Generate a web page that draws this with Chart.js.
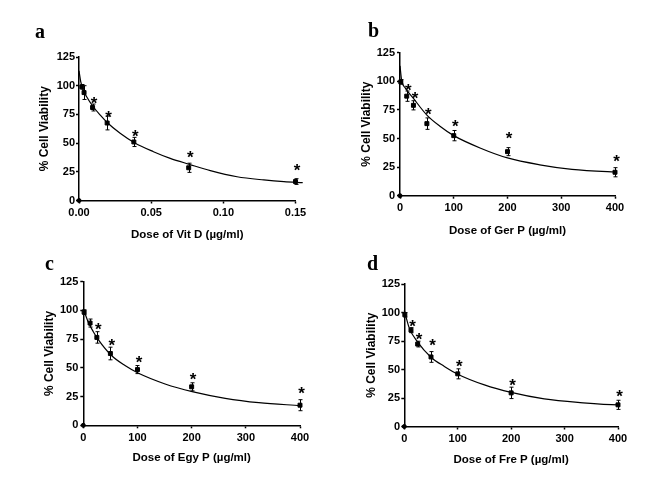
<!DOCTYPE html>
<html><head><meta charset="utf-8">
<script src="https://cdn.jsdelivr.net/npm/chart.js@4.4.1/dist/chart.umd.min.js"></script>
<style>
html,body{margin:0;padding:0;background:#fff;width:669px;height:485px;overflow:hidden}
canvas{position:absolute}
.lab{position:absolute;font:bold 20px "Liberation Serif","Times New Roman",serif;line-height:20px;color:#000}
</style></head><body>
<canvas id="ca" width="334" height="245" style="left:0;top:0"></canvas>
<canvas id="cb" width="334" height="245" style="left:335px;top:0"></canvas>
<canvas id="cc" width="334" height="240" style="left:0;top:245px"></canvas>
<canvas id="cd" width="334" height="240" style="left:335px;top:245px"></canvas>
<div class="lab" style="left:35px;top:20.75px">a</div>
<div class="lab" style="left:368px;top:20.25px">b</div>
<div class="lab" style="left:45px;top:253.25px">c</div>
<div class="lab" style="left:367px;top:253.25px">d</div>
<script>
// ---- shared ticks ----
const yTicks = [0, 25, 50, 75, 100, 125];
const xTicksVitD = [0, 0.05, 0.10, 0.15];
const xTickLabelsVitD = ['0.00', '0.05', '0.10', '0.15'];
const xTicksP = [0, 100, 200, 300, 400];
const xTickLabelsP = ['0', '100', '200', '300', '400'];
const yTitle = '% Cell Viability';
const xTitles = ['Dose of Vit D (µg/ml)', 'Dose of Ger P (µg/ml)', 'Dose of Egy P (µg/ml)', 'Dose of Fre P (µg/ml)'];
const panelLetters = ['a', 'b', 'c', 'd'];
const originX = [0];
const originY = [0];

// ---- panel a: Vit D ----
const doseA = [0.002, 0.0035, 0.0094, 0.0195, 0.038, 0.076, 0.15];
const viabA = [99, 94, 81, 67.5, 51, 28.5, 16.5];
const sdA = [2, 6, 3, 6, 4, 4, 2.5];
const starA = [null, null, 88, 76.5, 60, 41, 30];
const fitXA = [0, 0.0012, 0.003, 0.0053, 0.0095, 0.0146, 0.0197, 0.0285, 0.0384, 0.0516, 0.0632, 0.0764, 0.091, 0.1095, 0.128, 0.142, 0.155];
const fitYA = [113, 103.5, 96, 90.4, 82.3, 74.5, 67.7, 58.5, 50.3, 42.5, 36.7, 31.5, 26, 20.7, 17.9, 16.4, 15.6];

// ---- panel b: Ger P ----
const doseB = [1.5, 12.5, 25, 50, 100, 200, 400];
const viabB = [99.5, 87, 79, 63, 52.5, 38.5, 20.5];
const sdB = [2, 4.5, 4, 5, 4.5, 3.5, 4];
const starB = [null, 96, 88.5, 74.5, 64, 53.5, 34];
const fitXB = [0, 3, 10, 25, 50, 75, 100, 150, 200, 260, 320, 400, 412];
const fitYB = [113.5, 101, 94, 85, 70.5, 60.5, 52.5, 41.5, 33, 27, 23, 20.7, 20.5];

// ---- panel c: Egy P ----
const doseC = [1.5, 12.5, 25, 50, 100, 200, 400];
const viabC = [98.5, 89, 76.5, 62.5, 48.5, 33.5, 17.5];
const sdC = [2, 3.5, 5, 5.5, 3.5, 3.5, 4.8];
const starC = [null, null, 87.5, 73, 59, 44, 31.5];
const fitXC = [0, 9, 18.5, 28, 51, 77, 102, 151, 201, 262, 324, 401];
const fitYC = [101.5, 90, 81.5, 74.3, 61.2, 52, 45.3, 36, 29.3, 23.5, 19.7, 17.1];

// ---- panel d: Fre P ----
const doseD = [1, 12.5, 25, 50, 100, 200, 400];
const viabD = [98, 84.5, 72.3, 61, 46.2, 29.5, 19];
const sdD = [2, 2.2, 2.5, 4.7, 4.4, 5, 4];
const starD = [null, 91.6, 80, 74.6, 56.2, 40, 30.7];
const fitXD = [0, 9.4, 25, 50, 75, 100, 150, 200, 262, 325, 400, 412];
const fitYD = [102, 86.3, 74, 60.8, 52.7, 45.9, 36.5, 29.9, 24.2, 21.1, 19, 19];

const SANS = '"Liberation Sans", Arial, sans-serif';

const errStarPlugin = {
  id: 'errStar',
  afterDatasetsDraw(chart) {
    const ctx = chart.ctx, xs = chart.scales.x, ys = chart.scales.y;
    chart.data.datasets.forEach(ds => {
      if (!ds.errors) return;
      ctx.save();
      ctx.strokeStyle = '#000';
      ctx.lineWidth = 1;
      ds.data.forEach((p, i) => {
        const e = ds.errors[i];
        const x = Math.round(xs.getPixelForValue(p.x)) + 0.5;
        const yt = ys.getPixelForValue(p.y + e), yb = ys.getPixelForValue(p.y - e);
        ctx.beginPath();
        ctx.moveTo(x, yt); ctx.lineTo(x, yb);
        ctx.moveTo(x - 2, yt); ctx.lineTo(x + 2, yt);
        ctx.moveTo(x - 2, yb); ctx.lineTo(x + 2, yb);
        ctx.stroke();
      });
      ctx.fillStyle = '#000';
      ctx.font = 'bold 17px ' + SANS;
      ctx.textAlign = 'center';
      ctx.textBaseline = 'alphabetic';
      ds.stars.forEach((s, i) => {
        if (s == null) return;
        const x = xs.getPixelForValue(ds.data[i].x);
        const y = ys.getPixelForValue(s);
        ctx.fillText('*', x + 1.5, y + 10);
      });
      ctx.restore();
    });
  }
};

function makePanel(id, p) {
  const pts = p.dose.map((d, i) => ({x: d, y: p.viab[i]}));
  const fit = p.fitX.map((d, i) => ({x: d, y: p.fitY[i]}));
  const org = originX.map((d, i) => ({x: d, y: originY[i]}));
  new Chart(document.getElementById(id), {
    type: 'scatter',
    data: {
      datasets: [
        {type: 'line', data: fit, borderColor: '#000', borderWidth: 1.2, pointRadius: 0,
         cubicInterpolationMode: 'monotone', fill: false, clip: false, order: 2},
        {data: pts, backgroundColor: '#000', borderColor: '#000', pointStyle: 'rect', pointRadius: 2.8,
         errors: p.sd, stars: p.star, clip: false, order: 1},
        {data: org, backgroundColor: '#000', borderColor: '#000', pointRadius: 2, clip: false, order: 0}
      ]
    },
    options: {
      responsive: false, animation: false, events: [],
      layout: {padding: p.pad},
      plugins: {legend: {display: false}, tooltip: {enabled: false}},
      scales: {
        x: {
          type: 'linear', min: 0, max: p.xMax,
          afterBuildTicks: s => { s.ticks = p.xTicks.map(v => ({value: v})); },
          afterFit: s => { s.height = p.xH; },
          grid: {drawOnChartArea: false, drawTicks: true, tickLength: 3, color: '#000', tickWidth: 1.5},
          border: {display: true, color: '#000', width: 1.5},
          ticks: {color: '#000', padding: 3, maxRotation: 0, autoSkip: false,
                  font: {family: SANS, size: 11, weight: 'bold'},
                  callback: (v, i) => p.xLabels[i]},
          title: {display: true, text: p.xTitle, color: '#000', padding: 0,
                  font: {family: SANS, size: 11.5, weight: 'bold'}}
        },
        y: {
          type: 'linear', min: 0, max: 125,
          afterBuildTicks: s => { s.ticks = yTicks.map(v => ({value: v})); },
          afterFit: s => { s.width = p.yW; },
          grid: {drawOnChartArea: false, drawTicks: true, tickLength: 3, color: '#000', tickWidth: 1.5},
          border: {display: true, color: '#000', width: 1.5},
          ticks: {color: '#000', padding: p.yTickPad, autoSkip: false,
                  font: {family: SANS, size: 11, weight: 'bold'}},
          title: {display: true, text: yTitle, color: '#000', padding: 0,
                  font: {family: SANS, size: 12, weight: 'bold'}}
        }
      }
    },
    plugins: [errStarPlugin]
  });
}

makePanel('ca', {dose: doseA, viab: viabA, sd: sdA, star: starA, fitX: fitXA, fitY: fitYA,
  xTicks: xTicksVitD, xLabels: xTickLabelsVitD, xMax: 0.15, xTitle: xTitles[0],
  pad: {left: 37.8, top: 57, right: 38.5, bottom: 3.5}, yW: 41.2, xH: 41, yTickPad: 1});
makePanel('cb', {dose: doseB, viab: viabB, sd: sdB, star: starB, fitX: fitXB, fitY: fitYB,
  xTicks: xTicksP, xLabels: xTickLabelsP, xMax: 400, xTitle: xTitles[1],
  pad: {left: 24.8, top: 52.7, right: 54, bottom: 7.4}, yW: 40.2, xH: 41.9, yTickPad: 2});
makePanel('cc', {dose: doseC, viab: viabC, sd: sdC, star: starC, fitX: fitXC, fitY: fitYC,
  xTicks: xTicksP, xLabels: xTickLabelsP, xMax: 400, xTitle: xTitles[2],
  pad: {left: 42.8, top: 36.7, right: 34, bottom: 20.1}, yW: 40.5, xH: 39.6, yTickPad: 2});
makePanel('cd', {dose: doseD, viab: viabD, sd: sdD, star: starD, fitX: fitXD, fitY: fitYD,
  xTicks: xTicksP, xLabels: xTickLabelsP, xMax: 400, xTitle: xTitles[3],
  pad: {left: 29.8, top: 39, right: 51, bottom: 18.4}, yW: 39.5, xH: 40.1, yTickPad: 1.3});
</script>
</body></html>
